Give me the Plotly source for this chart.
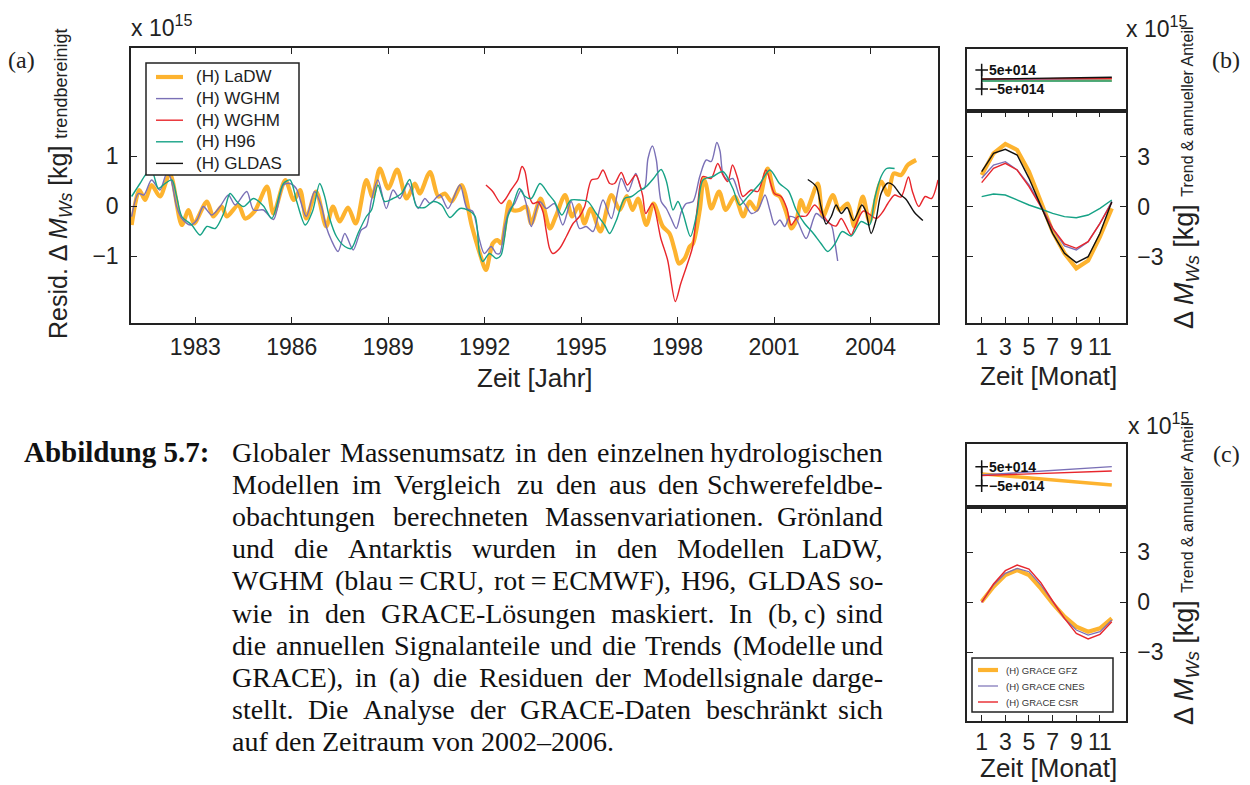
import plotly.graph_objects as go

W, H = 1250, 785

# ---------------- data: panel (a) residuals (x 1e15 kg) ----------------
years_ladw = [1981.02, 1981.26, 1981.44, 1981.64, 1981.90, 1982.21, 1982.58, 1982.79, 1982.96, 1983.36,
              1983.56, 1983.82, 1983.98, 1984.34, 1984.55, 1984.85, 1985.23, 1985.43, 1985.80, 1986.06,
              1986.26, 1986.45, 1986.76, 1987.07, 1987.28, 1987.49, 1987.75, 1987.99, 1988.32, 1988.51,
              1988.74, 1989.00, 1989.28, 1989.57, 1989.83, 1989.98, 1990.30, 1990.56, 1990.76, 1990.97,
              1991.28, 1991.60, 1991.85, 1992.04, 1992.25, 1992.40, 1992.51, 1992.77, 1992.87, 1993.08,
              1993.29, 1993.45, 1993.74, 1994.03, 1994.23, 1994.50, 1994.72, 1994.93, 1995.10, 1995.30,
              1995.60, 1995.94, 1996.20, 1996.42, 1996.60, 1996.77, 1997.03, 1997.25, 1997.54, 1997.75,
              1997.91, 1998.04, 1998.22, 1998.38, 1998.48, 1998.69, 1998.81, 1998.89, 1999.05, 1999.29,
              1999.50, 1999.78, 2000.04, 2000.24, 2000.45, 2000.80, 2001.02, 2001.18, 2001.39, 2001.54,
              2001.70, 2001.84, 2001.99, 2002.36, 2002.52, 2002.83, 2003.03, 2003.29, 2003.50, 2003.76,
              2003.97, 2004.33, 2004.54, 2004.72, 2004.95, 2005.16, 2005.42]
ladw = [-0.38, 0.32, 0.12, 0.42, 0.19, 0.65, -0.38, -0.08, -0.35, 0.09,
        -0.21, -0.01, -0.21, 0.02, -0.25, -0.10, 0.39, -0.15, 0.52, 0.12,
        0.32, -0.25, 0.29, -0.41, -0.01, -0.31, -0.03, -0.35, 0.52, 0.19,
        0.75, 0.35, 0.73, 0.15, 0.45, 0.25, 0.68, 0.19, 0.25, 0.09,
        0.42, -0.40, -0.95, -1.28, -0.75, -0.68, -0.75, 0.09, -0.08, -0.08,
        -0.01, -0.35, 0.15, -0.45, -0.18, 0.22, -0.21, 0.02, -0.35, -0.05,
        -0.51, 0.22, -0.08, 0.20, -0.08, 0.15, -0.38, 0.05, -0.41, -0.55,
        -0.88, -1.15, -1.05, -0.81, -0.75, -0.08, 0.55, 0.42, -0.05, 0.29,
        -0.08, 0.19, -0.21, 0.09, -0.08, 0.75, 0.25, 0.19, -0.15, -0.45,
        -0.28, 0.12, -0.11, 0.45, -0.21, 0.22, -0.08, 0.05, -0.41, 0.19,
        -0.31, 0.49, 0.22, 0.65, 0.62, 0.82, 0.92]

years_wghm_cru = [1981.02, 1981.23, 1981.40, 1981.64, 1981.90, 1982.11, 1982.22, 1982.42, 1982.58, 1982.84,
                  1983.05, 1983.25, 1983.51, 1983.77, 1984.03, 1984.24, 1984.60, 1984.81, 1985.12, 1985.43,
                  1985.74, 1985.95, 1986.14, 1986.45, 1986.71, 1986.92, 1987.07, 1987.23, 1987.44, 1987.65,
                  1987.91, 1988.16, 1988.32, 1988.48, 1988.68, 1988.94, 1989.15, 1989.36, 1989.62, 1989.93,
                  1990.14, 1990.30, 1990.61, 1990.86, 1991.23, 1991.45, 1991.63, 1991.84, 1991.99, 1992.20,
                  1992.36, 1992.47, 1992.62, 1992.77, 1992.93, 1993.14, 1993.29, 1993.45, 1993.71, 1993.92,
                  1994.17, 1994.43, 1994.69, 1994.95, 1995.16, 1995.37, 1995.68, 1995.94, 1996.25, 1996.46,
                  1996.70, 1996.87, 1996.97, 1997.08, 1997.22, 1997.34, 1997.49, 1997.65, 1997.80, 1997.96,
                  1998.12, 1998.27, 1998.48, 1998.69, 1998.89, 1999.05, 1999.22, 1999.32, 1999.41, 1999.57,
                  1999.72, 1999.93, 2000.14, 2000.30, 2000.50, 2000.72, 2000.87, 2001.02, 2001.18, 2001.33,
                  2001.49, 2001.68, 2002.00, 2002.31, 2002.52, 2002.78, 2002.88, 2002.98]
wghm_cru = [-0.21, 0.25, 0.22, 0.52, 0.32, 0.65, 0.58, -0.01, -0.25, -0.38,
            -0.28, -0.01, -0.18, -0.01, 0.22, 0.02, 0.29, -0.08, -0.08, -0.27,
            0.42, 0.45, 0.35, -0.21, 0.29, 0.00, -0.41, -0.68, -0.91, -0.55,
            -0.88, -0.48, -0.41, 0.12, 0.52, -0.05, 0.32, 0.15, 0.45, -0.05,
            0.15, 0.05, 0.22, -0.05, 0.42, -0.05, -0.11, -0.68, -0.95, -0.81,
            -0.95, -0.95, -0.41, -0.08, 0.05, 0.32, 0.05, -0.41, 0.09, -0.05,
            0.05, -0.38, 0.09, -0.45, -0.41, -0.51, 0.12, -0.25, 0.55, 0.29,
            0.65, 0.35, 0.35, 0.95, 1.20, 0.92, 0.09, -0.05, -0.25, -0.45,
            -0.11, 0.05, 0.09, 0.59, 0.92, 0.89, 1.27, 1.10, 0.65, 0.52,
            0.55, 0.19, -0.01, -0.15, -0.08, 0.22, -0.08, -0.38, -0.28, -0.41,
            -0.21, -0.25, -0.65, -0.15, -0.25, -0.38, -0.68, -1.10]

years_wghm_ecmwf = [1992.04, 1992.25, 1992.51, 1992.66, 1992.82, 1993.03, 1993.16, 1993.25, 1993.39, 1993.50,
                    1993.66, 1993.81, 1993.91, 1994.02, 1994.12, 1994.33, 1994.54, 1994.75, 1994.95, 1995.11,
                    1995.32, 1995.52, 1995.68, 1995.89, 1996.04, 1996.25, 1996.44, 1996.70, 1996.91, 1997.01,
                    1997.22, 1997.48, 1997.69, 1997.93, 1998.10, 1998.31, 1998.47, 1998.62, 1998.78, 1999.04,
                    1999.25, 1999.41, 1999.56, 1999.71, 1999.87, 2000.03, 2000.29, 2000.50, 2000.75, 2001.01,
                    2001.22, 2001.40, 2001.53, 2001.75, 2002.00, 2002.26, 2002.45, 2002.73, 2002.93, 2003.09,
                    2003.40, 2003.50, 2003.78, 2004.18, 2004.40, 2004.54, 2004.75, 2004.95, 2005.18, 2005.30,
                    2005.50, 2005.70, 2005.90, 2006.10]
wghm_ecmwf = [0.42, 0.29, 0.05, 0.15, 0.32, 0.52, 0.79, 0.70, 0.19, 0.05,
              0.08, -0.11, -0.48, -0.85, -0.95, -0.85, -0.61, -0.35, -0.21, -0.01,
              0.52, 0.55, 0.72, 0.45, 0.45, 0.67, 0.42, 0.62, 0.22, -0.15,
              0.05, -0.65, -1.08, -1.91, -1.55, -1.15, -0.81, 0.00, 0.59, 0.55,
              0.85, 0.62, 0.49, 0.82, 0.55, 0.19, 0.32, 0.29, 0.72, 0.25,
              0.19, -0.05, -0.38, -0.21, -0.20, 0.02, -0.11, -0.35, -0.40, -0.25,
              -0.58, -0.45, -0.10, -0.25, -0.10, 0.05, 0.22, 0.18, 0.58, 0.30,
              -0.01, 0.19, 0.15, 0.52]

years_h96 = [1981.02, 1981.28, 1981.49, 1981.66, 1981.85, 1982.06, 1982.27, 1982.42, 1982.58, 1982.89,
             1983.15, 1983.36, 1983.62, 1983.88, 1984.08, 1984.29, 1984.50, 1984.81, 1985.12, 1985.38,
             1985.74, 1985.95, 1986.15, 1986.42, 1986.65, 1986.87, 1987.02, 1987.18, 1987.39, 1987.65,
             1987.85, 1988.06, 1988.32, 1988.48, 1988.68, 1988.89, 1989.15, 1989.41, 1989.67, 1989.88,
             1990.14, 1990.40, 1990.66, 1990.92, 1991.23, 1991.50, 1991.70, 1991.84, 1991.94, 1992.15,
             1992.36, 1992.51, 1992.72, 1992.87, 1993.08, 1993.24, 1993.45, 1993.72, 1993.97, 1994.17,
             1994.40, 1994.60, 1994.69, 1994.95, 1995.21, 1995.47, 1995.73, 1995.89, 1996.10, 1996.35,
             1996.57, 1996.80, 1997.03, 1997.25, 1997.49, 1997.65, 1997.86, 1998.01, 1998.17, 1998.40,
             1998.60, 1998.79, 1999.10, 1999.41, 1999.72, 1999.93, 2000.19, 2000.56, 2000.87, 2001.17,
             2001.45, 2001.69, 2001.95, 2002.20, 2002.46, 2002.67, 2002.90, 2003.12, 2003.40, 2003.71,
             2003.97, 2004.13, 2004.33, 2004.50, 2004.75]
h96 = [0.19, 0.45, 0.65, 0.68, 0.35, 0.45, 0.52, 0.19, -0.21, -0.38,
       -0.58, -0.41, -0.45, -0.15, 0.25, 0.09, -0.01, 0.15, 0.00, -0.25,
       0.45, 0.52, 0.10, -0.38, -0.10, 0.45, 0.20, -0.25, -0.61, -0.81,
       -0.85, -0.55, -0.21, -0.08, 0.42, 0.09, 0.15, 0.25, 0.53, -0.01,
       -0.03, 0.09, 0.02, -0.23, -0.05, -0.09, -0.20, -0.95, -1.11, -0.95,
       -1.05, -0.98, -0.21, 0.00, 0.35, 0.20, 0.15, 0.45, 0.25, 0.09,
       -0.18, 0.05, 0.12, 0.12, 0.09, -0.15, -0.38, -0.55, -0.28, 0.15,
       0.19, 0.30, 0.39, 0.55, 0.73, 0.50, -0.08, 0.09, -0.15, -0.61,
       -0.15, 0.52, 0.59, 0.69, 0.35, 0.02, 0.19, 0.45, 0.72, 0.45,
       0.30, -0.08, -0.35, -0.53, -0.75, -0.91, -0.75, -0.51, -0.60, -0.31,
       -0.38, 0.15, 0.59, 0.75, 0.75]

years_gldas = [2002.05, 2002.31, 2002.46, 2002.62, 2002.78, 2002.93, 2003.09, 2003.27, 2003.47, 2003.73,
               2003.85, 2004.02, 2004.17, 2004.33, 2004.54, 2004.70, 2004.93, 2005.11, 2005.37, 2005.63]
gldas = [0.53, 0.39, -0.01, -0.36, -0.21, 0.02, -0.15, -0.03, -0.29, 0.02,
         -0.10, -0.55, -0.28, 0.25, 0.46, 0.42, 0.23, 0.13, -0.13, -0.29]

year_ticks = [1983, 1986, 1989, 1992, 1995, 1998, 2001, 2004]

# ---------------- data: panels (b) and (c) ----------------
months = [1, 2, 3, 4, 5, 6, 7, 8, 9, 10, 11, 12]
month_ticks = [1, 3, 5, 7, 9, 11]
ann_ladw = [1.9, 3.2, 3.76, 3.4, 2.1, 0.3, -1.5, -2.8, -3.7, -3.24, -1.8, -0.1]
ann_wghm_cru = [1.7, 2.5, 2.7, 2.2, 1.3, 0.1, -1.3, -2.36, -2.6, -2.1, -1.0, 0.3]
ann_wghm_ecmwf = [1.44, 2.3, 2.6, 2.2, 1.2, 0.0, -1.3, -2.24, -2.5, -2.1, -1.0, 0.24]
ann_h96 = [0.6, 0.76, 0.7, 0.4, 0.1, -0.14, -0.4, -0.6, -0.66, -0.5, -0.1, 0.4]
ann_gldas = [2.1, 3.2, 3.44, 3.1, 1.7, 0.1, -1.6, -2.8, -3.36, -3.0, -1.6, 0.3]

trend_months = [1, 12]
trend_ladw = [-0.03, -0.03]
trend_wghm_cru = [0.0, 0.04]
trend_wghm_ecmwf = [0.02, 0.07]
trend_h96 = [-0.08, -0.08]
trend_gldas = [0.02, 0.12]

ann_gfz = [0.04, 0.94, 1.64, 1.94, 1.64, 0.84, -0.06, -0.86, -1.46, -1.76, -1.56, -0.96]
ann_cnes = [0.0, 1.04, 1.74, 2.04, 1.84, 1.04, 0.04, -0.96, -1.66, -1.96, -1.76, -1.06]
ann_csr = [0.0, 1.1, 1.9, 2.24, 2.0, 1.18, 0.08, -0.96, -1.86, -2.2, -1.92, -1.16]
trend_gfz = [0.12, -0.46]
trend_cnes = [0.06, 0.5]
trend_csr = [0.03, 0.27]

scale_bar_x = [1, 1]
scale_bar_y = [-0.5, 0.5]

legend_a_names = ["(H) LaDW", "(H) WGHM", "(H) WGHM", "(H) H96", "(H) GLDAS"]
legend_c_names = ["(H) GRACE GFZ", "(H) GRACE CNES", "(H) GRACE CSR"]

caption_label = "Abbildung 5.7:"
caption_lines = [
    "Globaler Massenumsatz in den einzelnen hydrologischen",
    "Modellen im Vergleich zu den aus den Schwerefeldbe-",
    "obachtungen berechneten Massenvariationen. Grönland",
    "und die Antarktis wurden in den Modellen LaDW,",
    "WGHM (blau\u2009=\u2009CRU, rot\u2009=\u2009ECMWF), H96, GLDAS so-",
    "wie in den GRACE-Lösungen maskiert. In (b,\u2009c) sind",
    "die annuellen Signalanteile und die Trends (Modelle und",
    "GRACE), in (a) die Residuen der Modellsignale darge-",
    "stellt. Die Analyse der GRACE-Daten beschränkt sich",
    "auf den Zeitraum von 2002–2006.",
]

# ---------------- styling ----------------
C_OR = "#FDB32F"
C_PU = "#7A70B6"
C_RE = "#E8262C"
C_GR = "#16A286"
C_BK = "#111111"
SANS = "Liberation Sans, Arial, sans-serif"
SERIF = "Liberation Serif, Times New Roman, serif"
AX = "#222222"


def px_x(p):
    return p / W


def px_y(p):
    return 1 - p / H


def xd(a, b):
    return [a / W, b / W]


def yd(top, bottom):
    return [1 - bottom / H, 1 - top / H]


fig = go.Figure()

styles_a = [(C_OR, 4.2), (C_PU, 1.4), (C_RE, 1.4), (C_GR, 1.4), (C_BK, 1.4)]
styles_c = [(C_OR, 4.2), (C_PU, 1.2), (C_RE, 1.4)]

# panel (a)
for name, xs, ys, (col, wd) in zip(legend_a_names,
                                   [years_ladw, years_wghm_cru, years_wghm_ecmwf, years_h96, years_gldas],
                                   [ladw, wghm_cru, wghm_ecmwf, h96, gldas], styles_a):
    fig.add_trace(go.Scatter(x=xs, y=ys, mode="lines", name=name, showlegend=False,
                             line=dict(color=col, width=wd, shape="spline", smoothing=0.8),
                             xaxis="x", yaxis="y"))

# panel (b)
for ys, (col, wd) in zip([trend_ladw, trend_wghm_cru, trend_wghm_ecmwf, trend_h96, trend_gldas],
                         [(C_OR, 3.5), (C_PU, 1.4), (C_RE, 1.4), (C_GR, 1.4), (C_BK, 1.4)]):
    fig.add_trace(go.Scatter(x=trend_months, y=ys, mode="lines", showlegend=False,
                             line=dict(color=col, width=wd), xaxis="x2", yaxis="y2"))
fig.add_trace(go.Scatter(x=scale_bar_x, y=scale_bar_y, mode="lines+markers", showlegend=False,
                         line=dict(color=C_BK, width=1.5),
                         marker=dict(symbol="cross-thin", size=9, line=dict(color=C_BK, width=1.5)),
                         xaxis="x2", yaxis="y2"))
for ys, (col, wd) in zip([ann_ladw, ann_wghm_cru, ann_wghm_ecmwf, ann_h96, ann_gldas], styles_a):
    fig.add_trace(go.Scatter(x=months, y=ys, mode="lines", showlegend=False,
                             line=dict(color=col, width=wd), xaxis="x3", yaxis="y3"))

# panel (c)
for ys, (col, wd) in zip([trend_gfz, trend_cnes, trend_csr], [(C_OR, 3.5), (C_PU, 1.4), (C_RE, 1.4)]):
    fig.add_trace(go.Scatter(x=trend_months, y=ys, mode="lines", showlegend=False,
                             line=dict(color=col, width=wd), xaxis="x4", yaxis="y4"))
fig.add_trace(go.Scatter(x=scale_bar_x, y=scale_bar_y, mode="lines+markers", showlegend=False,
                         line=dict(color=C_BK, width=1.5),
                         marker=dict(symbol="cross-thin", size=9, line=dict(color=C_BK, width=1.5)),
                         xaxis="x4", yaxis="y4"))
for name, ys, (col, wd) in zip(legend_c_names, [ann_gfz, ann_cnes, ann_csr], styles_c):
    fig.add_trace(go.Scatter(x=months, y=ys, mode="lines", name=name, showlegend=False,
                             line=dict(color=col, width=wd), xaxis="x5", yaxis="y5"))

box = dict(showline=True, mirror=True, linecolor=AX, linewidth=1.5, showgrid=False, zeroline=False)
tickfont = dict(family=SANS, size=23, color=AX)

layout = dict(
    width=W, height=H, margin=dict(l=0, r=0, t=0, b=0),
    paper_bgcolor="white", plot_bgcolor="white", showlegend=False,
    xaxis=dict(domain=xd(131, 938), anchor="y", range=[1981, 2006.1], tickvals=year_ticks,
               ticks="inside", ticklen=6, tickcolor=AX, tickfont=tickfont, ticklabelstandoff=3,
               **{**box, "mirror": "ticks"}),
    yaxis=dict(domain=yd(48, 323), anchor="x", range=[-2.34, 3.16], tickvals=[-1, 0, 1],
               ticktext=["\u22121", "0", "1"], ticks="inside", ticklen=6, tickcolor=AX,
               tickfont=tickfont, ticklabelstandoff=6, **{**box, "mirror": "ticks"}),
    xaxis2=dict(domain=xd(967, 1126), anchor="y2", range=[-0.24, 13.2], showticklabels=False,
                ticks="", **box),
    yaxis2=dict(domain=yd(49, 111), anchor="x2", range=[-1.65, 1.6], showticklabels=False,
                ticks="", **box),
    xaxis3=dict(domain=xd(967, 1126), anchor="y3", range=[-0.24, 13.2], tickvals=month_ticks,
                ticks="inside", ticklen=6, tickcolor=AX, tickfont=tickfont, ticklabelstandoff=3,
                **{**box, "mirror": "ticks"}),
    yaxis3=dict(domain=yd(111, 323), anchor="x3", range=[-6.98, 5.74], side="right",
                tickvals=[-3, 0, 3], ticktext=["\u22123", "0", "3"], ticks="inside", ticklen=6,
                tickcolor=AX, tickfont=tickfont, ticklabelstandoff=5, **{**box, "mirror": "ticks"}),
    xaxis4=dict(domain=xd(967, 1126), anchor="y4", range=[-0.24, 13.2], showticklabels=False,
                ticks="", **box),
    yaxis4=dict(domain=yd(444, 507), anchor="x4", range=[-1.62, 1.69], showticklabels=False,
                ticks="", **box),
    xaxis5=dict(domain=xd(967, 1126), anchor="y5", range=[-0.24, 13.2], tickvals=month_ticks,
                ticks="inside", ticklen=6, tickcolor=AX, tickfont=tickfont, ticklabelstandoff=0,
                **{**box, "mirror": "ticks"}),
    yaxis5=dict(domain=yd(507, 721), anchor="x5", range=[-7.12, 5.72], side="right",
                tickvals=[-3, 0, 3], ticktext=["\u22123", "0", "3"], ticks="inside", ticklen=6,
                tickcolor=AX, tickfont=tickfont, ticklabelstandoff=5, **{**box, "mirror": "ticks"}),
)
fig.update_layout(**layout)

ann = []
shapes = []


def add_text(text, x, y, size, family=SANS, xanchor="center", yanchor="middle", angle=0, color=AX):
    ann.append(dict(text=text, x=px_x(x), y=px_y(y), xref="paper", yref="paper", showarrow=False,
                    xanchor=xanchor, yanchor=yanchor, textangle=angle,
                    font=dict(family=family, size=size, color=color)))


def add_legend(names, styles, left, top, right, bottom, first_y, step, line_x0, line_x1, text_x, size,
               color):
    shapes.append(dict(type="rect", xref="paper", yref="paper", x0=px_x(left), x1=px_x(right),
                       y0=px_y(bottom), y1=px_y(top), line=dict(color=AX, width=1.5),
                       fillcolor="white", layer="above"))
    for k, (nm, (col, wd)) in enumerate(zip(names, styles)):
        yy = first_y + step * k
        shapes.append(dict(type="line", xref="paper", yref="paper", x0=px_x(line_x0), x1=px_x(line_x1),
                           y0=px_y(yy), y1=px_y(yy), line=dict(color=col, width=wd), layer="above"))
        add_text(nm, text_x, yy, size, xanchor="left", color=color)


add_legend(legend_a_names, styles_a, 146, 63, 299, 175, 77, 21.6, 156, 183, 194, 17, AX)
add_legend(legend_c_names, styles_c, 972, 658, 1113, 712, 670, 16, 978, 998, 1004, 9.5, "#333")

# multipliers and panel letters
add_text("x 10<sup>15</sup>", 129, 26, 23, xanchor="left")
add_text("x 10<sup>15</sup>", 1124, 27, 23, xanchor="left")
add_text("x 10<sup>15</sup>", 1126, 424, 23, xanchor="left")
add_text("(a)", 21, 60, 24, family=SERIF)
add_text("(b)", 1226, 60, 24, family=SERIF)
add_text("(c)", 1226, 454, 24, family=SERIF)

# axis titles
add_text("Zeit [Jahr]", 535, 378, 26)
add_text("Zeit [Monat]", 1048, 376, 26)
add_text("Zeit [Monat]", 1048, 768, 26)
add_text("Resid. \u0394 <i>M</i><sub><i>Ws</i></sub> [kg] <span style='font-size:18px'>trendbereinigt</span>",
         60, 184, 25, angle=-90)
add_text("\u0394 <i>M</i><sub><i>Ws</i></sub> [kg] <span style='font-size:16px'>Trend &amp; annueller Anteil</span>",
         1186, 178, 27, angle=-90)
add_text("\u0394 <i>M</i><sub><i>Ws</i></sub> [kg] <span style='font-size:16px'>Trend &amp; annueller Anteil</span>",
         1186, 574, 27, angle=-90)

# scale-bar labels in trend panels
for xr, yr in [("x2", "y2"), ("x4", "y4")]:
    for v, t in [(0.5, "<b>5e+014</b>"), (-0.5, "<b>\u22125e+014</b>")]:
        ann.append(dict(text=t, x=scale_bar_x[0], y=v, xref=xr, yref=yr, showarrow=False,
                        xanchor="left", yanchor="middle", xshift=5,
                        font=dict(family=SANS, size=14, color=C_BK)))

# caption (justified, word by word)
TW = dict(a=444, b=500, c=444, d=500, e=444, f=333, g=500, h=500, i=278, j=278, k=500, l=278, m=778,
          n=500, o=500, p=500, q=500, r=333, s=389, t=278, u=500, v=500, w=722, x=500, y=500, z=444,
          A=722, B=667, C=667, D=722, E=611, F=556, G=722, H=722, I=333, J=389, K=722, L=611, M=889,
          N=722, O=722, P=556, Q=722, R=667, S=556, T=611, U=722, V=722, W=944, X=722, Y=722, Z=611)
TW.update({".": 250, ",": 250, ":": 278, "(": 333, ")": 333, "-": 333, "\u2013": 500, "=": 564,
           "ö": 500, "ä": 444, " ": 250, "\u2009": 170})
CAP_SIZE = 28
CAP_L, CAP_R = 230, 885


def word_w(wd):
    return sum(TW.get(ch, 500) for ch in wd) * CAP_SIZE / 1000.0


add_text("<b>" + caption_label + "</b>", 22, 452, 29, family=SERIF, xanchor="left", color="#111")
for i, line in enumerate(caption_lines):
    yy = 452 + 32.2 * i
    words = line.split(" ")
    widths = [word_w(w) for w in words]
    last = i == len(caption_lines) - 1
    if last or len(words) == 1:
        gap = TW[" "] * CAP_SIZE / 1000.0
    else:
        gap = (CAP_R - CAP_L - sum(widths)) / (len(words) - 1)
    xx = CAP_L
    for j, (w, wdt) in enumerate(zip(words, widths)):
        if (not last) and j == len(words) - 1 and len(words) > 1:
            add_text(w, CAP_R, yy, CAP_SIZE, family=SERIF, xanchor="right", color="#111")
        else:
            add_text(w, xx, yy, CAP_SIZE, family=SERIF, xanchor="left", color="#111")
        xx += wdt + gap

fig.update_layout(annotations=ann, shapes=shapes)
fig.write_html("out.html", config={"displayModeBar": False},
               post_script="document.body.style.margin='0px';document.body.style.overflow='hidden';")
